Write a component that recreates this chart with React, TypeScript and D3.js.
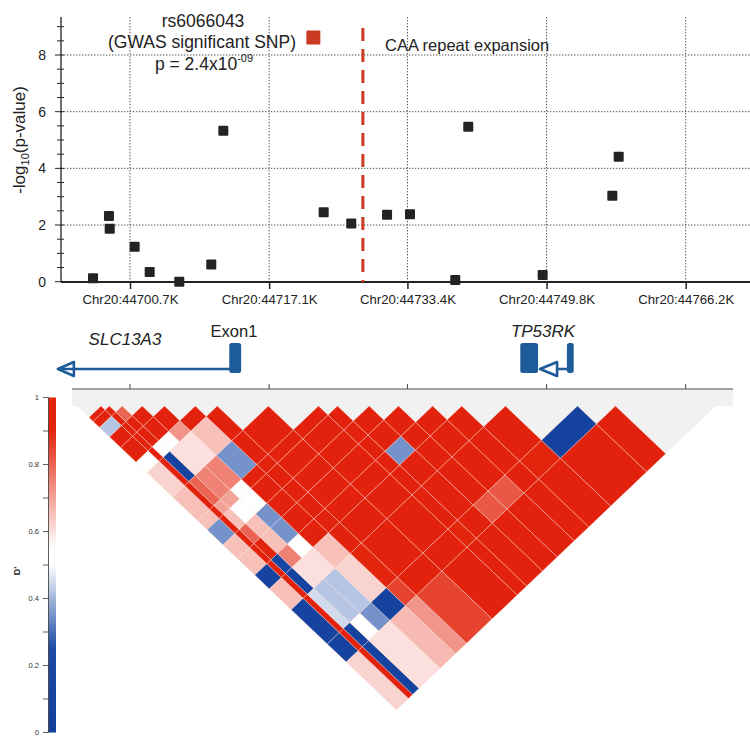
import React, { useEffect, useRef } from 'react';
import * as d3 from 'd3';

// SNPs in the region (position in kb on chr20) and their -log10(p)
const snpPos = [44696.34, 44698.22, 44698.31, 44701.25, 44703.02, 44706.51, 44710.28, 44711.7, 44722.31,
    44723.53, 44726.78, 44731.0, 44733.7, 44739.04, 44740.57, 44749.34, 44757.55, 44758.3];
const snpLogP = [0.12, 2.32, 1.87, 1.23, 0.34, 0.0, 0.61, 5.33, 8.62, 2.45, 2.05, 2.36, 2.38, 0.06, 5.47, 0.24, 3.03, 4.41];
const gwasIndex = 8;

const xTicks = [44700.7, 44717.1, 44733.4, 44749.8, 44766.2];
const yTicks = [0, 2, 4, 6, 8];
const caaPos = 44728.15;
const ldRegion = [44694.45, 44769.77];

// pairwise D' (row i holds SNP i against SNPs i+1 .. end)
const ldRows = [
    [1, 1, 0.42, 1, 1, 0.55, 0.62, 0.65, 0.65, 0.35, 0.65, 0.65, 0.1, 0.65, 0.1, 0.1, 0.62],
    [1, 1, 1, 1, 1, 1, 1, 1, 1, 1, 1, 1, 1, 1, 1, 1],
    [0.8, 1, 1, 0.55, 0.1, 0.8, 0.7, 0.65, 0.8, 0.9, 0.15, 0.1, 0.45, 0.1, 0.1],
    [1, 1, 0.52, 0.6, 0.75, 0.7, 0.55, 0.65, 0.65, 0.75, 0.6, 0.42, 0.5, 0.6],
    [1, 0.72, 0.6, 0.75, 0.55, 0.5, 0.35, 0.35, 0.5, 0.6, 0.42, 0.35, 0.6],
    [1, 0.65, 0.35, 1, 1, 1, 1, 1, 0.65, 0.62, 0.1, 0.66],
    [1, 1, 1, 1, 1, 1, 1, 1, 0.9, 0.85, 0.72],
    [1, 1, 1, 1, 1, 1, 1, 1, 1, 0.85],
    [1, 1, 1, 1, 1, 1, 1, 1, 1],
    [1, 1, 1, 1, 1, 1, 0.9, 1],
    [1, 1, 0.35, 1, 1, 1, 1],
    [1, 1, 1, 1, 0.82, 1],
    [1, 1, 1, 0.82, 1],
    [1, 1, 1, 1],
    [1, 0.9, 1],
    [0.1, 1],
    [1],
];
const legendTicks = [0, 0.2, 0.4, 0.6, 0.8, 1];

// genes: [start, end] in kb, exon boxes
const slc13a3 = { name: 'SLC13A3', start: 44692.2, end: 44713.2, exon: [44712.4, 44713.8] };
const tp53rk = { name: 'TP53RK', start: 44747.0, end: 44752.6, exons: [[44746.7, 44748.8], [44752.2, 44753.0]] };

const font = '"Liberation Sans", Arial, sans-serif';
const geneBlue = '#1d5b9b';

function App() {
    const ref = useRef<SVGSVGElement>(null);

    useEffect(() => {
        document.body.style.margin = '0';
        const svg = d3.select(ref.current);
        svg.selectAll('*').remove();
        drawChart(svg);
    }, []);

    const drawChart = (svg: any) => {
        const left = 61, right = 750, top = 17, bottom = 282;
        const x = d3.scaleLinear().domain([xTicks[0], xTicks[4]]).range([130, 685.7]);
        const y = d3.scaleLinear().domain([0, 8]).range([281.7, 55]);

        // ---- association plot ----
        const plot = svg.append('g');
        plot.selectAll('.hgrid').data(yTicks.slice(1)).join('line')
            .attr('x1', left).attr('x2', right)
            .attr('y1', (d: number) => y(d)).attr('y2', (d: number) => y(d))
            .attr('stroke', '#555').attr('stroke-dasharray', '1.4,1.6');
        plot.selectAll('.vgrid').data(xTicks).join('line')
            .attr('x1', (d: number) => x(d)).attr('x2', (d: number) => x(d))
            .attr('y1', top).attr('y2', bottom)
            .attr('stroke', '#555').attr('stroke-dasharray', '1.4,1.6');

        // y axis with half-unit ticks
        plot.append('line').attr('x1', left).attr('x2', left).attr('y1', top).attr('y2', bottom)
            .attr('stroke', '#222').attr('stroke-width', 1.3);
        plot.selectAll('.ytick').data(d3.range(0, 9.01, 0.5)).join('line')
            .attr('x1', (d: number) => (d % 2 === 0 ? 55 : 57)).attr('x2', 64)
            .attr('y1', (d: number) => y(d)).attr('y2', (d: number) => y(d))
            .attr('stroke', '#222').attr('stroke-width', 1);
        plot.selectAll('.ylab').data(yTicks).join('text')
            .attr('x', 46).attr('y', (d: number) => y(d)).attr('dy', '0.36em')
            .attr('text-anchor', 'end').attr('font-family', font).attr('font-size', 14).attr('fill', '#222')
            .text((d: number) => d);

        const ytitle = plot.append('text').attr('transform', 'translate(25,140) rotate(-90)')
            .attr('text-anchor', 'middle').attr('font-family', font).attr('font-size', 17).attr('fill', '#222');
        ytitle.append('tspan').text('-log');
        ytitle.append('tspan').attr('font-size', 11).attr('dy', 4).text('10');
        ytitle.append('tspan').attr('dy', -4).text('(p-value)');

        // x axis
        const xAxis = plot.append('g').attr('transform', `translate(0,${bottom})`)
            .call(d3.axisBottom(x).tickValues(xTicks).tickSize(7).tickFormat((d: any) => `Chr20:${d}K`));
        xAxis.select('.domain').remove();
        xAxis.selectAll('line').attr('stroke', '#222').attr('stroke-width', 1.5);
        xAxis.selectAll('text').attr('font-family', font).attr('font-size', 13.5).attr('fill', '#222')
            .attr('y', 12).attr('textLength', 96).attr('lengthAdjust', 'spacingAndGlyphs');
        plot.append('line').attr('x1', left).attr('x2', right).attr('y1', bottom).attr('y2', bottom)
            .attr('stroke', '#222').attr('stroke-width', 2);

        // CAA repeat marker
        plot.append('line').attr('x1', x(caaPos)).attr('x2', x(caaPos)).attr('y1', 28).attr('y2', bottom)
            .attr('stroke', '#cc3a22').attr('stroke-width', 3).attr('stroke-dasharray', '13,8');
        plot.append('text').attr('x', 385).attr('y', 51).attr('font-family', font).attr('font-size', 16.5)
            .attr('fill', '#222').text('CAA repeat expansion');

        // SNP points
        const pts = snpPos.map((p, i) => ({ p, v: snpLogP[i], gwas: i === gwasIndex }));
        plot.selectAll('.snp').data(pts).join('rect')
            .attr('x', (d: any) => x(d.p) - (d.gwas ? 7 : 5)).attr('y', (d: any) => y(d.v) - (d.gwas ? 7 : 5))
            .attr('width', (d: any) => (d.gwas ? 14 : 10)).attr('height', (d: any) => (d.gwas ? 14 : 10))
            .attr('rx', 1).attr('fill', (d: any) => (d.gwas ? '#cb3a22' : '#232323'));

        const ann = plot.append('g').attr('font-family', font).attr('font-size', 17.5).attr('fill', '#222')
            .attr('text-anchor', 'middle');
        ann.append('text').attr('x', 203).attr('y', 27).text('rs6066043');
        ann.append('text').attr('x', 202).attr('y', 48).text('(GWAS significant SNP)');
        const pv = ann.append('text').attr('x', 204).attr('y', 70);
        pv.append('tspan').text('p = 2.4x10');
        pv.append('tspan').attr('font-size', 11).attr('dy', -8).text('-09');

        // ---- gene track ----
        const genes = svg.append('g');
        const gy = 369;
        genes.append('line').attr('x1', x(slc13a3.start) + 4).attr('x2', x(slc13a3.end))
            .attr('y1', gy).attr('y2', gy).attr('stroke', geneBlue).attr('stroke-width', 2.5);
        const tip = x(slc13a3.start);
        genes.append('path').attr('d', `M${tip},${gy}L${tip + 16},${gy - 7}L${tip + 16},${gy + 7}Z`)
            .attr('fill', '#fff').attr('stroke', geneBlue).attr('stroke-width', 2.6).attr('stroke-linejoin', 'round');
        genes.append('line').attr('x1', tip + 3).attr('x2', tip + 16).attr('y1', gy).attr('y2', gy)
            .attr('stroke', geneBlue).attr('stroke-width', 2.5);
        genes.append('rect').attr('x', x(slc13a3.exon[0])).attr('y', 343)
            .attr('width', x(slc13a3.exon[1]) - x(slc13a3.exon[0])).attr('height', 30).attr('rx', 2.5)
            .attr('fill', geneBlue);

        const t0 = x(tp53rk.exons[0][1]) + 2;
        genes.append('line').attr('x1', t0).attr('x2', x(tp53rk.end)).attr('y1', gy).attr('y2', gy)
            .attr('stroke', geneBlue).attr('stroke-width', 2.5);
        genes.append('path').attr('d', `M${t0},${gy}L${t0 + 17},${gy - 7}L${t0 + 17},${gy + 7}Z`)
            .attr('fill', '#fff').attr('stroke', geneBlue).attr('stroke-width', 2.6).attr('stroke-linejoin', 'round');
        genes.selectAll('.tpex').data(tp53rk.exons).join('rect')
            .attr('x', (d: number[]) => x(d[0])).attr('y', 343)
            .attr('width', (d: number[]) => x(d[1]) - x(d[0])).attr('height', 30).attr('rx', 2.5)
            .attr('fill', geneBlue);

        genes.append('text').attr('x', 125).attr('y', 345).attr('text-anchor', 'middle')
            .attr('font-family', font).attr('font-size', 17).attr('font-style', 'italic').attr('fill', '#222')
            .text(slc13a3.name);
        genes.append('text').attr('x', 234).attr('y', 337).attr('text-anchor', 'middle')
            .attr('font-family', font).attr('font-size', 16.5).attr('fill', '#222').text('Exon1');
        genes.append('text').attr('x', 543).attr('y', 337).attr('text-anchor', 'middle')
            .attr('font-family', font).attr('font-size', 17).attr('font-style', 'italic').attr('fill', '#222')
            .text(tp53rk.name);

        // ---- LD heatmap ----
        const ld = svg.append('g');
        const ldTop = 406, k = 0.951;
        const bounds = [x(ldRegion[0])];
        for (let i = 1; i < snpPos.length; i++) bounds.push(x((snpPos[i - 1] + snpPos[i]) / 2));
        bounds.push(x(ldRegion[1]));
        const pt = (a: number, b: number) => [(a + b) / 2, ldTop + (k * (b - a)) / 2];
        const n = snpPos.length;

        ld.append('rect').attr('x', 72).attr('y', 390).attr('width', 661).attr('height', ldTop - 390)
            .attr('fill', '#f1f1f1');
        ld.append('path')
            .attr('d', d3.line()([pt(bounds[0], bounds[0]), pt(bounds[n], bounds[n]), pt(bounds[0], bounds[n])] as any) + 'Z')
            .attr('fill', '#f1f1f1');

        const color = d3.scaleLinear<string>()
            .domain([0, 0.25, 0.5, 0.55, 0.9, 1])
            .range(['#123f9c', '#1b4aa6', '#ffffff', '#ffffff', '#e3250e', '#e2220c']);

        const cells: any[] = [];
        ldRows.forEach((row, i) => row.forEach((v, jj) => {
            const j = i + 1 + jj;
            cells.push({
                v,
                poly: [pt(bounds[i + 1], bounds[j]), pt(bounds[i + 1], bounds[j + 1]),
                    pt(bounds[i], bounds[j + 1]), pt(bounds[i], bounds[j])],
            });
        }));
        ld.selectAll('.cell').data(cells).join('path')
            .attr('d', (d: any) => d3.line()(d.poly) + 'Z')
            .attr('fill', (d: any) => color(d.v))
            .attr('stroke', 'rgba(255,225,215,0.55)').attr('stroke-width', 0.7);

        // track axis above heatmap
        ld.append('line').attr('x1', 72).attr('x2', 733).attr('y1', 389).attr('y2', 389)
            .attr('stroke', '#444').attr('stroke-width', 1);
        ld.selectAll('.ldtick').data(xTicks).join('line')
            .attr('x1', (d: number) => x(d)).attr('x2', (d: number) => x(d)).attr('y1', 384).attr('y2', 389)
            .attr('stroke', '#444');

        // colour legend
        const cy = d3.scaleLinear().domain([0, 1]).range([732.5, 397.5]);
        const grad = svg.append('defs').append('linearGradient').attr('id', 'ldgrad')
            .attr('x1', 0).attr('x2', 0).attr('y1', 1).attr('y2', 0);
        grad.selectAll('stop').data(d3.range(0, 1.001, 0.05)).join('stop')
            .attr('offset', (d: number) => d).attr('stop-color', (d: number) => color(d));
        svg.append('rect').attr('x', 48.5).attr('y', cy(1)).attr('width', 7.5).attr('height', cy(0) - cy(1))
            .attr('fill', 'url(#ldgrad)');
        svg.append('line').attr('x1', 48.5).attr('x2', 48.5).attr('y1', cy(1)).attr('y2', cy(0))
            .attr('stroke', '#333').attr('stroke-width', 0.8);
        svg.selectAll('.ctick').data(d3.range(0, 1.001, 0.1)).join('line')
            .attr('x1', 43).attr('x2', 48.5).attr('y1', (d: number) => cy(d)).attr('y2', (d: number) => cy(d))
            .attr('stroke', '#333').attr('stroke-width', 0.8);
        svg.selectAll('.clab').data(legendTicks).join('text')
            .attr('x', 39).attr('y', (d: number) => cy(d)).attr('dy', '0.3em').attr('text-anchor', 'end')
            .attr('font-family', font).attr('font-size', 7.5).attr('fill', '#333')
            .text((d: number) => d);
        svg.append('text').attr('transform', 'translate(20,571) rotate(-90)').attr('text-anchor', 'middle')
            .attr('font-family', font).attr('font-size', 9).attr('font-weight', 'bold').attr('fill', '#333')
            .text("D'");
    };

    return <svg ref={ref} width={750} height={737} style={{ display: 'block', background: '#fff' }}></svg>;
}

export default App;
